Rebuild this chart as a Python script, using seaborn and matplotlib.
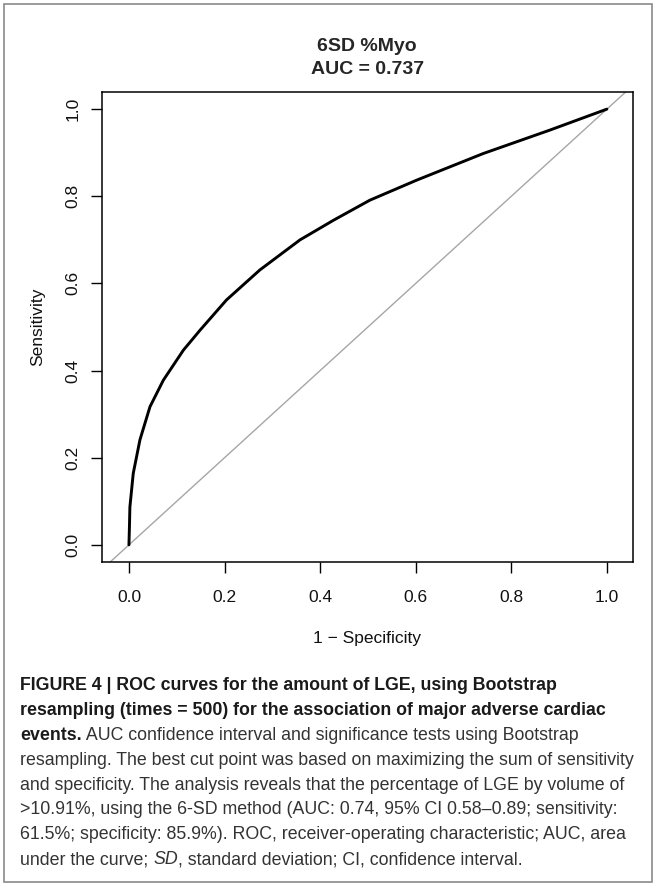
import matplotlib
matplotlib.use("Agg")
import matplotlib.pyplot as plt
import seaborn as sns
import pandas as pd
from matplotlib.patches import Rectangle

# ROC curve (1 - specificity, sensitivity)
fpr = [0.0, 0.001, 0.002, 0.009, 0.023, 0.044, 0.072, 0.114, 0.149, 0.204,
       0.274, 0.358, 0.428, 0.504, 0.602, 0.741, 0.881, 1.0]
tpr = [0.0, 0.040, 0.087, 0.164, 0.241, 0.317, 0.378, 0.447, 0.493, 0.562,
       0.631, 0.700, 0.745, 0.791, 0.837, 0.898, 0.952, 1.0]

title_lines = ["6SD %Myo", "AUC = 0.737"]
tick_vals = [0.0, 0.2, 0.4, 0.6, 0.8, 1.0]
tick_labels = ["0.0", "0.2", "0.4", "0.6", "0.8", "1.0"]

caption = [
    [("FIGURE 4 | ROC curves for the amount of LGE, using Bootstrap", "bold")],
    [("resampling (times = 500) for the association of major adverse cardiac", "bold")],
    [("events.", "bold"), (" AUC confidence interval and significance tests using Bootstrap", "normal")],
    [("resampling. The best cut point was based on maximizing the sum of sensitivity", "normal")],
    [("and specificity. The analysis reveals that the percentage of LGE by volume of", "normal")],
    [(">10.91%, using the 6-SD method (AUC: 0.74, 95% CI 0.58\u20130.89; sensitivity:", "normal")],
    [("61.5%; specificity: 85.9%). ROC, receiver-operating characteristic; AUC, area", "normal")],
    [("under the curve; ", "normal"), ("SD", "italic"), (", standard deviation; CI, confidence interval.", "normal")],
]

df = pd.DataFrame({"fpr": fpr, "tpr": tpr})

sns.set_style("white")
plt.rcParams["font.family"] = ["Liberation Sans", "DejaVu Sans"]

W, H = 656, 885
fig = plt.figure(figsize=(W / 100, H / 100), dpi=100)
ax = fig.add_axes([101.7 / W, 1 - 562.3 / H, 531 / W, 470.6 / H])

ax.axline((0, 0), (1, 1), color="#a6a6a6", lw=1.0, zorder=1)
sns.lineplot(data=df, x="fpr", y="tpr", ax=ax, color="black", lw=2.1,
             estimator=None, sort=False, zorder=3,
             solid_joinstyle="round", solid_capstyle="round")

ax.set_xlim(-0.057, 1.054)
ax.set_ylim(-0.04, 1.04)
ax.set_xticks(tick_vals)
ax.set_xticklabels(tick_labels)
ax.set_yticks(tick_vals)
ax.set_yticklabels(tick_labels, rotation=90, va="center")
ax.tick_params(axis="both", direction="out", length=8, width=1.0, color="black",
               labelsize=12.5, labelcolor="#111111", bottom=True, left=True)
ax.tick_params(axis="x", pad=12)
ax.tick_params(axis="y", pad=7.5)
for s in ax.spines.values():
    s.set_visible(True)
    s.set_color("black")
    s.set_linewidth(1.1)

ax.set_xlabel("1 \u2212 Specificity", fontsize=12.5, color="#111111")
ax.set_ylabel("Sensitivity", fontsize=12.5, color="#111111")
ax.xaxis.set_label_coords(0.5, -0.146)
ax.yaxis.set_label_coords(-0.107, 0.5)
ax.set_title("\n".join(title_lines), fontsize=14, fontweight="bold",
             linespacing=1.45, pad=13)

# caption below the chart
x0 = 20 / W
y_first = 686
step = 24.8
for i, parts in enumerate(caption):
    y = 1 - (y_first + i * step) / H
    last = None
    for text, kind in parts:
        kw = dict(fontsize=12.8, color="#333333" if kind != "bold" else "#1a1a1a",
                  fontweight="bold" if kind == "bold" else "normal",
                  fontstyle="italic" if kind == "italic" else "normal")
        if last is None:
            last = fig.text(x0, y, text, ha="left", va="center", **kw)
        else:
            last = ax.annotate(text, xy=(1, 0), xycoords=last, ha="left",
                               va="bottom", annotation_clip=False, **kw)

# outer frame
fig.patches.append(Rectangle((4 / W, 1 - 882 / H), (W - 4.5) / W - 4 / W, (882 - 4) / H,
                             transform=fig.transFigure, fill=False,
                             edgecolor="#8a8a8a", lw=1.2))

fig.savefig("out.png", dpi=100)
